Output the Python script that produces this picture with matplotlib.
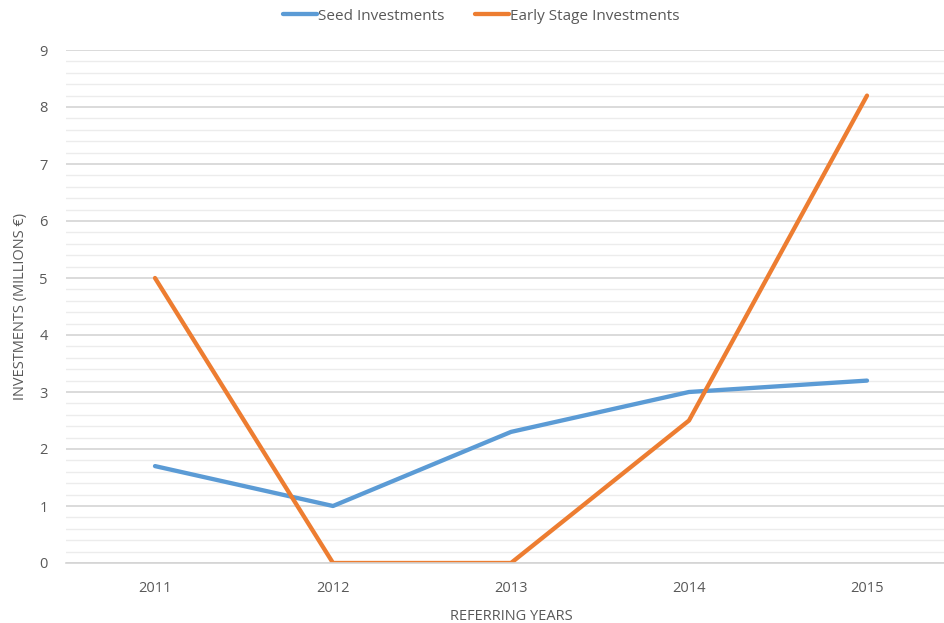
import matplotlib.pyplot as plt
from matplotlib.ticker import MultipleLocator

# ==== Data ====
years = ["2011", "2012", "2013", "2014", "2015"]
seed = [1.7, 1.0, 2.3, 3.0, 3.2]
early = [5.0, 0.0, 0.0, 2.5, 8.2]

plt.rcParams["font.family"] = ["Open Sans", "DejaVu Sans"]
txt = "#595959"

fig = plt.figure(figsize=(9.44, 6.23), dpi=100)
ax = fig.add_axes([66/944, 60/623, 890/944, 513/623])

x = range(len(years))
ax.plot(x, seed, color="#5B9BD5", lw=3.1, label="Seed Investments", solid_capstyle="round")
ax.plot(x, early, color="#ED7D31", lw=3.1, label="Early Stage Investments", solid_capstyle="round")

ax.set_xlim(-0.5, 4.5)
ax.set_ylim(0, 9)
ax.set_xticks(list(x))
ax.set_xticklabels(years)
ax.yaxis.set_major_locator(MultipleLocator(1))
ax.yaxis.set_minor_locator(MultipleLocator(0.2))
ax.grid(axis="y", which="major", color="#d4d4d4", lw=1.2)
ax.grid(axis="y", which="minor", color="#ececec", lw=1.0)
ax.set_axisbelow(True)
for s in ["top", "right", "left"]:
    ax.spines[s].set_visible(False)
ax.spines["bottom"].set_color("#d4d4d4")
ax.spines["bottom"].set_linewidth(1.2)
ax.tick_params(axis="both", which="both", length=0, labelsize=10.5, colors=txt)
ax.tick_params(axis="x", pad=13)
ax.tick_params(axis="y", pad=13)

ax.set_xlabel("REFERRING YEARS", fontsize=10.5, color=txt, labelpad=9)
ax.set_ylabel("INVESTMENTS (MILLIONS €)", fontsize=10.5, color=txt, labelpad=8)

fig.legend(loc="center", bbox_to_anchor=(0.51, 1 - 16/623), ncol=2, frameon=False,
           fontsize=11, labelcolor=txt, handlelength=2.2, handletextpad=0.1,
           columnspacing=2.0)

fig.savefig("out.png", dpi=100)
